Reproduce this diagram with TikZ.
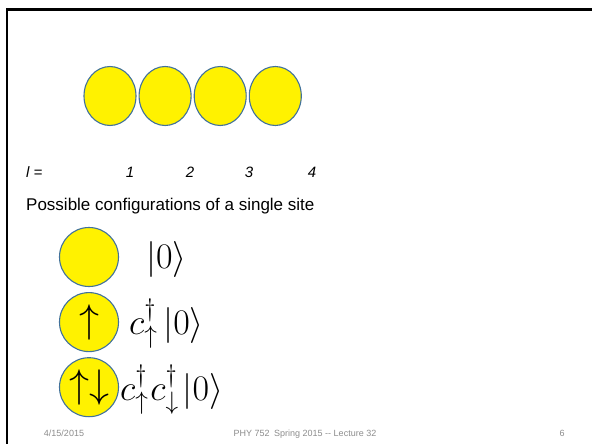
\documentclass[tikz,border=0pt]{standalone}
\usepackage{fix-cm}
\usepackage{amsmath}
\usepackage[no-math]{fontspec}
\setmainfont{Liberation Sans}
\usetikzlibrary{positioning,shapes.geometric}
\definecolor{siteblue}{HTML}{41719C}
\definecolor{footgray}{HTML}{8C8C8C}

\begin{document}
\begin{tikzpicture}[x=1pt, y=-1pt,
  sitenode/.style={ellipse, draw=siteblue, line width=1.1pt, fill=yellow, minimum width=52pt, minimum height=59pt, inner sep=0pt},
  onenode/.style={circle, draw=siteblue, line width=1.1pt, fill=yellow, minimum size=59pt, inner sep=0pt, font=\fontsize{40}{40}\selectfont},
  idxtext/.style={font=\fontsize{15}{18}\selectfont\itshape, inner sep=0pt},
  kettext/.style={font=\fontsize{36}{38}\selectfont, inner sep=0pt, anchor=base west},
  foottext/.style={font=\fontsize{9}{10}\selectfont, text=footgray, inner sep=0pt, anchor=base}
]
\useasboundingbox (0,0) rectangle (592,444);
\draw[line width=2.3pt] (7.2,444) -- (7.2,9.5) -- (592,9.5);
% chain of four sites
\node[sitenode] (s1) at (110,96) {};
\node[sitenode, right=2pt of s1] (s2) {};
\node[sitenode, right=2pt of s2] (s3) {};
\node[sitenode, right=2pt of s3] (s4) {};
% site index
\node[idxtext, anchor=west] (lidx) at (26,172) {l =};
\node[idxtext] (i1) at (130,172) {1};
\node[idxtext] (i2) at (190,172) {2};
\node[idxtext] (i3) at (249,172) {3};
\node[idxtext] (i4) at (312,172) {4};
\node[font=\fontsize{17}{20}\selectfont, inner sep=0pt, anchor=base west] (poss) at (26,210) {Possible configurations of a single site};
% single-site states
\node[onenode] (c0) at (89,257) {};
\node[onenode, below=5pt of c0] (c1) {$\uparrow$};
\node[onenode, below=5pt of c1] (c2) {$\uparrow\downarrow$};
\node[kettext] (k0) at (146,268) {$|0\rangle$};
\node[kettext] (k1) at (129,334) {$c^\dagger_\uparrow\mkern3mu|0\rangle$};
\node[kettext] (k2) at (120,400) {$c^\dagger_\uparrow\mkern1mu c^\dagger_\downarrow\mkern2mu|0\rangle$};
% footer
\node[foottext] (fdate) at (64,436) {4/15/2015};
\node[foottext] (ftitle) at (305,436) {PHY 752\enspace Spring 2015 -{}- Lecture 32};
\node[foottext] (fpage) at (562,436) {6};
\end{tikzpicture}
\end{document}
